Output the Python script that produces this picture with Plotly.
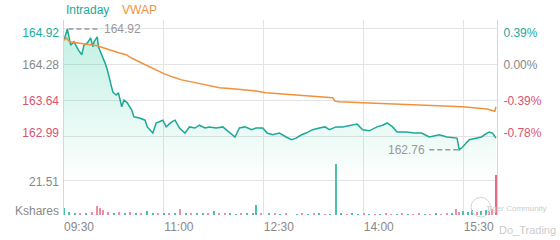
import plotly.graph_objects as go
import pandas as pd

DAY = "2021-06-01 "

# ---- intraday price ----
price_times = ["09:30","09:33","09:36","09:39","09:43","09:46","09:48","09:51","09:54","09:56",
               "09:57","10:00","10:01","10:04","10:07","10:09","10:11","10:14","10:17","10:19",
               "10:22","10:24","10:27","10:31","10:33","10:38","10:43","10:45","10:50","10:53",
               "10:59","11:02","11:07","11:10","11:14","11:19","11:23","11:28","11:32","11:37",
               "11:41","11:47","11:53","11:59","12:04","12:08","12:13","12:19","12:23","12:29",
               "12:33","12:38","12:44","12:50","12:55","12:59","13:04","13:08","13:14","13:20",
               "13:25","13:29","13:35","13:41","13:47","13:54","13:59","14:05","14:12","14:17",
               "14:21","14:26","14:30","14:38","14:46","14:52","14:59","15:08","15:15","15:24",
               "15:26","15:29","15:35","15:42","15:46","15:51","15:53","15:56","15:59"]
price_values = [164.72,164.92,164.63,164.69,164.54,164.46,164.63,164.67,164.76,164.60,
                164.69,164.78,164.60,164.46,164.31,164.19,164.01,163.79,163.74,163.78,
                163.53,163.65,163.60,163.47,163.35,163.33,163.29,163.17,163.06,163.24,
                163.29,163.17,163.26,163.29,163.15,163.06,163.17,163.15,163.20,163.15,
                163.17,163.15,163.17,163.08,162.99,163.15,163.17,163.12,163.15,163.15,
                163.06,163.03,163.06,162.99,162.94,162.97,163.03,163.06,163.12,163.15,
                163.17,163.12,163.17,163.17,163.19,163.22,163.12,163.10,163.17,163.20,
                163.24,163.17,163.08,163.08,163.06,163.06,162.99,163.03,162.99,162.97,
                162.76,162.81,162.94,162.97,162.99,163.06,163.08,163.06,162.97]

# ---- VWAP ----
vwap_times = ["09:30","09:32","09:35","09:41","09:50","10:00","10:06","10:13","10:20","10:26",
              "10:29","10:38","10:43","10:50","10:59","11:08","11:16","11:26","11:38","11:50",
              "12:02","12:14","12:23","12:32","12:44","12:56","13:08","13:20","13:32","13:34",
              "13:38","13:59","14:29","14:59","15:29","15:51","15:58","15:59"]
vwap_values = [164.72,164.76,164.69,164.67,164.65,164.62,164.58,164.53,164.49,164.46,
               164.42,164.33,164.28,164.22,164.13,164.06,164.01,163.97,163.92,163.87,
               163.85,163.83,163.81,163.78,163.76,163.74,163.72,163.71,163.69,163.63,
               163.62,163.60,163.58,163.56,163.53,163.49,163.45,163.53]

# ---- volume (Kshares) ----
vol_times = ["09:30","09:35","09:40","09:45","09:50","09:55","10:00","10:03","10:05","10:10",
             "10:15","10:20","10:25","10:30","10:35","10:40","10:45","10:50","10:55","11:00",
             "11:05","11:10","11:15","11:20","11:25","11:30","11:35","11:40","11:45","11:50",
             "11:55","12:00","12:05","12:10","12:15","12:20","12:23","12:28","12:35","12:40",
             "12:45","12:50","13:00","13:05","13:10","13:15","13:20","13:25","13:30","13:35",
             "13:40","13:45","13:50","13:55","14:00","14:05","14:10","14:15","14:20","14:25",
             "14:30","14:35","14:40","14:45","14:50","14:55","15:00","15:05","15:10","15:15",
             "15:20","15:23","15:26","15:30","15:34","15:38","15:42","15:46","15:50","15:53",
             "15:56","15:59"]
vol_values = [4.5,2.0,1.2,1.0,1.5,2.0,5.5,4.0,3.0,2.0,
              1.5,2.0,1.2,1.8,1.0,1.5,2.5,1.0,1.5,1.2,
              1.0,1.5,3.8,1.0,1.2,0.8,1.0,1.5,2.2,1.0,
              0.8,1.0,0.6,1.0,1.2,0.8,6.0,1.0,1.5,0.8,
              0.6,0.8,0.5,0.8,0.6,1.0,0.8,0.5,0.6,31.3,
              0.8,0.6,0.8,0.5,0.8,0.6,0.5,0.6,0.8,0.5,
              0.6,0.8,0.5,0.6,0.8,0.5,0.6,0.8,0.6,0.8,
              1.0,3.8,2.0,2.5,2.0,2.8,1.8,2.5,3.0,2.5,
              3.5,24.6]
vol_dir = ["u","u","u","d","u","d","d","d","d","d",
           "u","d","u","d","u","d","u","u","d","u",
           "d","u","d","u","d","u","u","d","u","d",
           "d","u","u","d","u","u","u","d","u","d",
           "u","d","u","d","u","d","u","d","u","u",
           "u","d","u","u","d","u","d","u","d","d",
           "u","d","u","d","d","u","d","u","d","d",
           "u","d","d","u","u","u","d","u","u","d",
           "d","d"]

prev_close = 164.28
price_ticks = [164.92, 164.28, 163.64, 162.99]
price_tick_colors = ["#1BA998", "#888888", "#D9546E", "#D9546E"]
pct_labels = ["0.39%", "0.00%", "-0.39%", "-0.78%"]
vol_ticks = [0, 21.51]
vol_tick_labels = ["Kshares", "21.51"]
time_ticks = ["09:30", "11:00", "12:30", "14:00", "15:30"]

TEAL = "#1BA998"
ORANGE = "#F0923C"
GRAY = "#888888"
GRID = "#e3e3e3"
FONT = "Liberation Sans"

PRICE_RANGE = [161.596, 165.08]
VOL_RANGE = [0, 119.84]
PLOT_H = 195.0
px_price = (PRICE_RANGE[1] - PRICE_RANGE[0]) / PLOT_H   # price units per pixel
px_vol = (VOL_RANGE[1] - VOL_RANGE[0]) / PLOT_H

to_dt = lambda arr: pd.to_datetime([DAY + s for s in arr])
pt = to_dt(price_times)
vt = to_dt(vwap_times)
volt = to_dt(vol_times)

fig = go.Figure()

fig.add_trace(go.Scatter(
    x=pt, y=price_values, mode="lines", line=dict(color=TEAL, width=1.5),
    fill="tozeroy",
    fillgradient=dict(type="vertical",
                      colorscale=[[0, "rgba(27,200,150,0)"], [1, "rgba(27,200,150,0.27)"]],
                      start=162.2, stop=164.92),
    xaxis="x", yaxis="y", showlegend=False, hoverinfo="skip"))

fig.add_trace(go.Scatter(
    x=vt, y=vwap_values, mode="lines", line=dict(color=ORANGE, width=1.5),
    xaxis="x", yaxis="y", showlegend=False, hoverinfo="skip"))

vol_colors = ["#4CBFAF" if d == "u" else "#F08DA2" for d in vol_dir]
vol_colors[-1] = "#EA6A84"
fig.add_trace(go.Bar(
    x=volt, y=vol_values, marker=dict(color=vol_colors, line=dict(width=0)),
    width=80000, xaxis="x", yaxis="y2", showlegend=False, hoverinfo="skip"))

# invisible traces to activate label axes
for ax in ["y3", "y4", "y5"]:
    fig.add_trace(go.Scatter(x=[pt[0]], y=[prev_close if ax != "y5" else 0], mode="markers",
                             marker=dict(opacity=0), xaxis="x", yaxis=ax,
                             showlegend=False, hoverinfo="skip"))

# max/min markers derived from data
imax = max(range(len(price_values)), key=lambda i: price_values[i])
imin = min(range(len(price_values)), key=lambda i: price_values[i])
tmax, pmax = pt[imax], price_values[imax]
tmin, pmin = pt[imin], price_values[imin]
M = pd.Timedelta(minutes=1)
fig.add_shape(type="line", xref="x", yref="y", x0=tmax + 1 * M, x1=tmax + 29 * M, y0=pmax, y1=pmax,
              line=dict(color="#999999", width=1.5, dash="5px,3px"))
fig.add_annotation(x=tmax + 31 * M, y=pmax, xref="x", yref="y", text=f"{pmax:.2f}",
                   showarrow=False, xanchor="left", yanchor="middle",
                   font=dict(family=FONT, size=12, color="#999999"))
fig.add_shape(type="line", xref="x", yref="y", x0=tmin - 27 * M, x1=tmin - 1 * M, y0=pmin, y1=pmin,
              line=dict(color="#999999", width=1.5, dash="5px,3px"))
fig.add_annotation(x=tmin - 29 * M, y=pmin, xref="x", yref="y", text=f"{pmin:.2f}",
                   showarrow=False, xanchor="right", yanchor="middle",
                   font=dict(family=FONT, size=12, color="#999999"))

# legend-like header
fig.add_annotation(x=0, y=1.05, xref="paper", yref="paper", text="Intraday", showarrow=False,
                   xanchor="left", yanchor="middle", font=dict(family=FONT, size=12, color=TEAL))
fig.add_annotation(x=0.129, y=1.05, xref="paper", yref="paper", text="VWAP", showarrow=False,
                   xanchor="left", yanchor="middle", font=dict(family=FONT, size=12, color=ORANGE))

# watermark
fig.add_annotation(x=0.97, y=0.035, xref="paper", yref="paper", text="Tiger Community", showarrow=False,
                   xanchor="left", yanchor="middle", font=dict(family=FONT, size=8, color="#cccccc"))
fig.add_annotation(x=1.0, y=-0.075, xref="paper", yref="paper", text="Do_Trading", showarrow=False,
                   xanchor="left", yanchor="middle", font=dict(family=FONT, size=11, color="#cccccc"))
fig.add_shape(type="circle", xref="paper", yref="paper", x0=0.94, x1=0.985, y0=-0.01, y1=0.09,
              line=dict(color="#d5d5d5", width=1))

# label positions nudged inward at the panel edges (as in the reference)
n = len(price_ticks)
price_label_pos = [v - 4 * px_price if i == 0 else (v + 4 * px_price if i == n - 1 else v)
                   for i, v in enumerate(price_ticks)]
vol_label_pos = [vol_ticks[0] + 4 * px_vol, vol_ticks[1] - 1.5 * px_vol]

tick_dt = to_dt(time_ticks)
fig.update_layout(
    width=560, height=240,
    margin=dict(l=64, r=63, t=20, b=25, autoexpand=False),
    paper_bgcolor="white", plot_bgcolor="white",
    font=dict(family=FONT, size=12, color=GRAY),
    xaxis=dict(type="date", range=[pd.Timestamp(DAY + "09:30"), pd.Timestamp(DAY + "16:00")],
               tickvals=tick_dt, ticktext=time_ticks, showgrid=True, gridcolor=GRID,
               gridwidth=1, zeroline=False, showline=False, ticks="", ticklabelshift=15,
               ticklabelstandoff=3, automargin=False, tickfont=dict(size=12, color=GRAY)),
    # price grid axis
    yaxis=dict(range=PRICE_RANGE, tickvals=price_ticks, showticklabels=False,
               showgrid=True, gridcolor=GRID, zeroline=False, showline=True, linecolor="#d6d6d6",
               ticks="", side="left", automargin=False),
    # volume grid axis
    yaxis2=dict(range=VOL_RANGE, tickvals=vol_ticks, showticklabels=False, overlaying="y",
                side="left", showgrid=True, gridcolor=GRID, zeroline=False, showline=False, ticks="",
                automargin=False),
    # right percent labels
    yaxis3=dict(range=PRICE_RANGE, tickvals=price_label_pos,
                ticktext=[f'<span style="color:{c}">{t}</span>' for t, c in zip(pct_labels, price_tick_colors)],
                overlaying="y", side="right", showgrid=False, zeroline=False, showline=True,
                linecolor="#d6d6d6", ticks="", ticklabelstandoff=3, automargin=False,
                tickfont=dict(size=12)),
    # left price labels
    yaxis4=dict(range=PRICE_RANGE, tickvals=price_label_pos,
                ticktext=[f'<span style="color:{c}">{v:.2f}</span>' for v, c in zip(price_ticks, price_tick_colors)],
                overlaying="y", side="left", showgrid=False, zeroline=False, showline=False,
                ticks="", ticklabelstandoff=4, automargin=False, tickfont=dict(size=12)),
    # left volume labels
    yaxis5=dict(range=VOL_RANGE, tickvals=vol_label_pos, ticktext=vol_tick_labels,
                overlaying="y", side="left", showgrid=False, zeroline=False, showline=False,
                ticks="", ticklabelstandoff=4, automargin=False, tickfont=dict(size=12, color=GRAY)),
    bargap=0,
)

fig.write_html("out.html")
